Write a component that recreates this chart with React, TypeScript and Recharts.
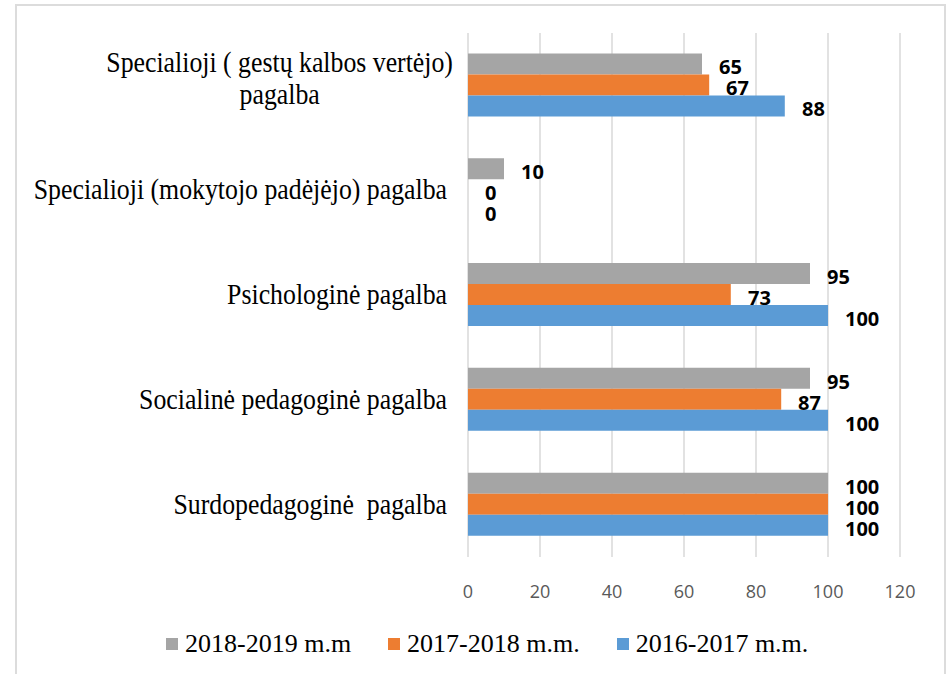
import React from "react";
import { BarChart, Bar, XAxis, YAxis, CartesianGrid, LabelList, Legend } from "recharts";

const categories = [
  "Specialioji ( gestų kalbos vertėjo)\npagalba",
  "Specialioji (mokytojo padėjėjo) pagalba",
  "Psichologinė pagalba",
  "Socialinė pedagoginė pagalba",
  "Surdopedagoginė  pagalba",
];
const y2018 = [65, 10, 95, 95, 100];
const y2017 = [67, 0, 73, 87, 100];
const y2016 = [88, 0, 100, 100, 100];
const xTicks = [0, 20, 40, 60, 80, 100, 120];

const series = [
  { key: "y2018", name: "2018-2019 m.m", color: "#a5a5a5" },
  { key: "y2017", name: "2017-2018 m.m.", color: "#ed7d31" },
  { key: "y2016", name: "2016-2017 m.m.", color: "#5b9bd5" },
];

const data = categories.map((c, i) => ({
  name: c,
  y2018: y2018[i],
  y2017: y2017[i],
  y2016: y2016[i],
}));

const serif = '"Liberation Serif", "Times New Roman", serif';
const catFont = 25.8;

let ctx: CanvasRenderingContext2D | null = null;
function textWidth(s: string) {
  if (!ctx) ctx = document.createElement("canvas").getContext("2d");
  if (!ctx) return s.length * catFont * 0.45;
  ctx.font = `${catFont}px ${serif}`;
  return ctx.measureText(s).width;
}

// category names: right aligned, wrapped lines centred on each other
function CategoryTick(props: any) {
  const { x, y, payload } = props;
  const lines = String(payload.value).split("\n");
  const style = { whiteSpace: "pre" as const };
  if (lines.length === 1) {
    return (
      <g transform={`translate(${x},${y + 9}) scale(1,1.1)`}>
        <text x={0} y={0} textAnchor="end" fontFamily={serif} fontSize={catFont} fill="#000" style={style}>
          {lines[0]}
        </text>
      </g>
    );
  }
  const w = Math.max(...lines.map(textWidth));
  const cx = x + 6 - w / 2;
  return (
    <g>
      {lines.map((l, i) => (
        <g key={i} transform={`translate(${cx},${y - 13 + i * 32}) scale(1,1.1)`}>
          <text x={0} y={0} textAnchor="middle" fontFamily={serif} fontSize={catFont} fill="#000" style={style}>
            {l}
          </text>
        </g>
      ))}
    </g>
  );
}

function ValueLabel(props: any) {
  const { x, y, width, height, value } = props;
  return (
    <text
      x={Number(x) + Math.round(Number(width)) + 17}
      y={Number(y) + Number(height) / 2 + 3}
      dominantBaseline="central"
      fontFamily='"Open Sans", sans-serif'
      fontWeight={700}
      fontSize={20}
      fill="#000"
    >
      {value}
    </text>
  );
}

function ChartLegend() {
  return (
    <div
      style={{
        display: "flex",
        alignItems: "center",
        paddingLeft: 166,
        fontFamily: serif,
        fontSize: 26,
        lineHeight: "30px",
        color: "#000",
      }}
    >
      {series.map((s, i) => (
        <div key={s.key} style={{ display: "flex", alignItems: "center", marginRight: i < series.length - 1 ? 37 : 0 }}>
          <span style={{ width: 12, height: 12, background: s.color, marginRight: 7, display: "inline-block" }} />
          <span>{s.name}</span>
        </div>
      ))}
    </div>
  );
}

export default function App() {
  return (
    <div style={{ position: "absolute", left: 0, top: 0, width: 948, height: 674, background: "#fff", overflow: "hidden" }}>
      <div
        style={{
          position: "absolute",
          left: 15,
          top: 4,
          width: 931,
          height: 700,
          border: "2px solid #dcdcdc",
          boxSizing: "border-box",
        }}
      />
      <BarChart
        width={948}
        height={674}
        data={data}
        layout="vertical"
        margin={{ top: 33, right: 48, bottom: 77, left: 0 }}
        barCategoryGap="19.5%"
        barGap={0}
      >
        <CartesianGrid horizontal={false} stroke="#d9d9d9" strokeWidth={1.5} />
        <XAxis
          type="number"
          domain={[0, 120]}
          ticks={xTicks}
          height={40}
          axisLine={false}
          tickLine={false}
          tickSize={0}
          tickMargin={28}
          tick={{ fill: "#595959", fontSize: 18, fontFamily: '"Open Sans", sans-serif' }}
        />
        <YAxis
          type="category"
          dataKey="name"
          width={468}
          axisLine={false}
          tickLine={false}
          tickSize={0}
          tickMargin={21}
          interval={0}
          tick={<CategoryTick />}
        />
        <Legend
          verticalAlign="middle"
          align="center"
          content={<ChartLegend />}
          wrapperStyle={{ top: 629, left: 0, width: 948, height: 30 }}
        />
        {series.map((s) => (
          <Bar
            key={s.key}
            dataKey={s.key}
            name={s.name}
            fill={s.color}
            minPointSize={0.01}
            isAnimationActive={false}
          >
            <LabelList dataKey={s.key} content={<ValueLabel />} />
          </Bar>
        ))}
      </BarChart>
    </div>
  );
}
